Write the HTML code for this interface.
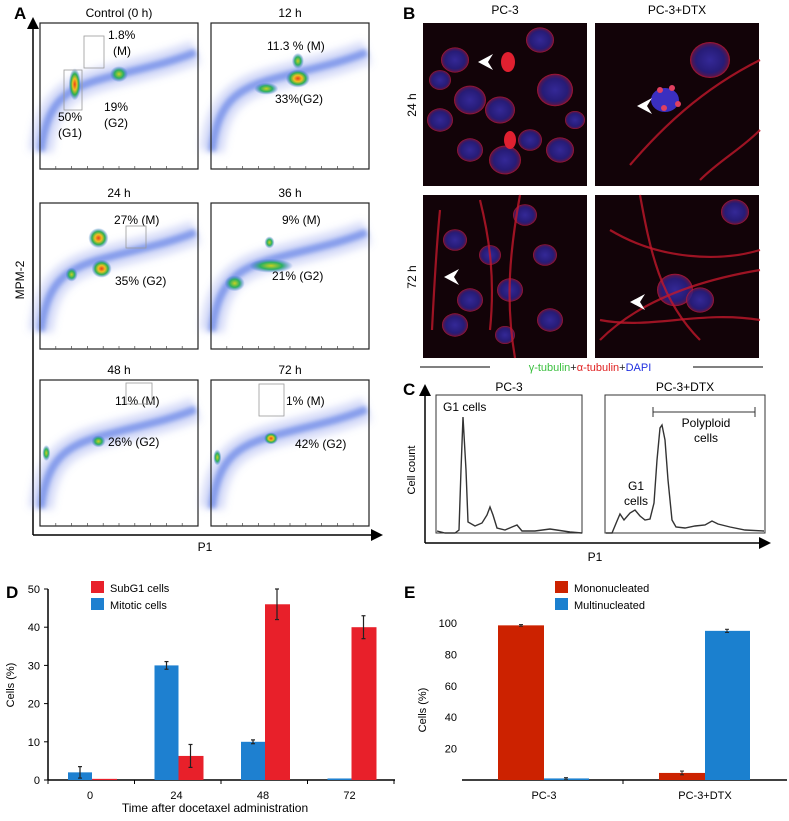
<!DOCTYPE html>
<html><head><meta charset="utf-8"><style>
html,body{margin:0;padding:0;background:#fff;}
svg{display:block;font-family:"Liberation Sans",Arial,sans-serif;}
</style></head><body>
<svg id="fig" width="789" height="821" viewBox="0 0 789 821" xmlns="http://www.w3.org/2000/svg">
<defs>
<filter id="bl2" x="-50%" y="-50%" width="200%" height="200%"><feGaussianBlur stdDeviation="2.2"/></filter>
<filter id="bl4" x="-50%" y="-50%" width="200%" height="200%"><feGaussianBlur stdDeviation="4"/></filter>
<radialGradient id="hot"><stop offset="0" stop-color="#e8401a"/><stop offset="0.35" stop-color="#f0c020"/><stop offset="0.65" stop-color="#2bb050"/><stop offset="1" stop-color="#2b5fe0" stop-opacity="0"/></radialGradient>
<radialGradient id="warm"><stop offset="0" stop-color="#c8d020"/><stop offset="0.5" stop-color="#2bb060"/><stop offset="1" stop-color="#2b5fe0" stop-opacity="0"/></radialGradient>
<radialGradient id="nucB"><stop offset="0" stop-color="#3a2fb0"/><stop offset="0.7" stop-color="#2a208a"/><stop offset="0.9" stop-color="#5a1a60"/><stop offset="1" stop-color="#d01830"/></radialGradient>
<marker id="arr" markerWidth="8" markerHeight="8" refX="6" refY="4" orient="auto"><path d="M0,0 L8,4 L0,8 Z" fill="#000"/></marker>
</defs>

<!-- Panel A -->
<g>
<text x="14" y="19" font-size="17" font-weight="bold">A</text>
<line x1="33" y1="535" x2="33" y2="20" stroke="#000" stroke-width="1.5" marker-end="url(#arr)"/>
<line x1="33" y1="535" x2="380" y2="535" stroke="#000" stroke-width="1.5" marker-end="url(#arr)"/>
<text x="24" y="280" font-size="12" text-anchor="middle" transform="rotate(-90 24 280)">MPM-2</text>
<text x="205" y="551" font-size="12" text-anchor="middle">P1</text>
<g id="flowplots"></g>
</g>

<!-- Panel B -->
<g>
<text x="403" y="19" font-size="17" font-weight="bold">B</text>
<text x="505" y="14" font-size="12" text-anchor="middle">PC-3</text>
<text x="677" y="14" font-size="12" text-anchor="middle">PC-3+DTX</text>
<text x="416" y="105" font-size="12" text-anchor="middle" transform="rotate(-90 416 105)">24 h</text>
<text x="416" y="277" font-size="12" text-anchor="middle" transform="rotate(-90 416 277)">72 h</text>
<g id="micro"></g>
<line x1="420" y1="367" x2="490" y2="367" stroke="#000" stroke-width="1"/>
<line x1="693" y1="367" x2="763" y2="367" stroke="#000" stroke-width="1"/>
<text x="590" y="371" font-size="11" text-anchor="middle"><tspan fill="#3cc040">γ-tubulin</tspan><tspan fill="#222">+</tspan><tspan fill="#e02020">α-tubulin</tspan><tspan fill="#222">+</tspan><tspan fill="#2030e0">DAPI</tspan></text>
</g>

<!-- Panel C -->
<g>
<text x="403" y="395" font-size="17" font-weight="bold">C</text>
<line x1="425" y1="543" x2="425" y2="387" stroke="#000" stroke-width="1.5" marker-end="url(#arr)"/>
<line x1="425" y1="543" x2="768" y2="543" stroke="#000" stroke-width="1.5" marker-end="url(#arr)"/>
<text x="415" y="470" font-size="11" text-anchor="middle" transform="rotate(-90 415 470)">Cell count</text>
<text x="595" y="561" font-size="12" text-anchor="middle">P1</text>
<text x="509" y="391" font-size="12" text-anchor="middle">PC-3</text>
<text x="685" y="391" font-size="12" text-anchor="middle">PC-3+DTX</text>
<rect x="436" y="395" width="146" height="138" fill="none" stroke="#333" stroke-width="1"/>
<rect x="605" y="395" width="160" height="138" fill="none" stroke="#333" stroke-width="1"/>
<g id="histos"></g>
<text x="443" y="411" font-size="12">G1 cells</text>
<line x1="653" y1="412" x2="755" y2="412" stroke="#333"/><line x1="653" y1="407" x2="653" y2="417" stroke="#333"/><line x1="755" y1="407" x2="755" y2="417" stroke="#333"/>
<text x="706" y="427" font-size="12" text-anchor="middle">Polyploid</text>
<text x="706" y="442" font-size="12" text-anchor="middle">cells</text>
<text x="636" y="490" font-size="12" text-anchor="middle">G1</text>
<text x="636" y="505" font-size="12" text-anchor="middle">cells</text>
</g>

<!-- Panel D -->
<g id="panelD">
<text x="6" y="598" font-size="17" font-weight="bold">D</text>
</g>
<!-- Panel E -->
<g id="panelE">
<text x="404" y="598" font-size="17" font-weight="bold">E</text>
</g>
</svg>
<script>
var NS="http://www.w3.org/2000/svg";
function mk(tag,attrs,parent,txt){var e=document.createElementNS(NS,tag);for(var k in attrs)e.setAttribute(k,attrs[k]);if(txt!==undefined)e.textContent=txt;parent.appendChild(e);return e;}

// ---------- Panel D data ----------
var dCategories=["0","24","48","72"];
var dMitotic=[2,30,10,0.4];
var dMitoticErr=[1.5,1,0.5,0];
var dSubG1=[0.3,6.3,46,40];
var dSubG1Err=[0,3,4,3];
var dTicks=[0,10,20,30,40,50];
// ---------- Panel E data ----------
var eCategories=["PC-3","PC-3+DTX"];
var eMono=[98.5,4.5];
var eMonoErr=[0.5,1.2];
var eMulti=[1,95];
var eMultiErr=[0.5,1];
var eTicks=[20,40,60,80,100];

(function(){
var g=document.getElementById('panelD');
function y(v){return 780-v*3.82;}
function xc(i){return 90+i*86.5;}
mk('line',{x1:48,y1:780,x2:395,y2:780,stroke:'#000','stroke-width':1.5},g);
mk('line',{x1:48,y1:780,x2:48,y2:589,stroke:'#000','stroke-width':1.5},g);
dTicks.forEach(function(t){
 mk('line',{x1:44,y1:y(t),x2:48,y2:y(t),stroke:'#000'},g);
 var tx=mk('text',{x:40,y:y(t)+4,'font-size':11,'text-anchor':'end'},g,String(t));
 
 
});
[0,1,2,3,4].forEach(function(i){mk('line',{x1:48+i*86.5,y1:780,x2:48+i*86.5,y2:784,stroke:'#000'},g);});
var yt=mk('text',{x:14,y:685,'font-size':11,'text-anchor':'middle',transform:'rotate(-90 14 685)'},g,'Cells (%)');


var xt=mk('text',{x:215,y:812,'font-size':12,'text-anchor':'middle'},g,'Time after docetaxel administration');


dCategories.forEach(function(c,i){
 var cx=xc(i)-22;
 var b=mk('rect',{x:cx,y:y(dMitotic[i]),width:24,height:780-y(dMitotic[i]),fill:'#1e80d0'},g);
 
 
 var r=mk('rect',{x:cx+24,y:y(dSubG1[i]),width:25,height:780-y(dSubG1[i]),fill:'#e8202a'},g);
 
 
 [[cx+12,dMitotic[i],dMitoticErr[i]],[cx+36,dSubG1[i],dSubG1Err[i]]].forEach(function(e){
  if(e[2]>0){mk('line',{x1:e[0],y1:y(e[1]+e[2]),x2:e[0],y2:y(Math.max(0,e[1]-e[2])),stroke:'#222','stroke-width':1.2},g);
  mk('line',{x1:e[0]-2,y1:y(e[1]+e[2]),x2:e[0]+2,y2:y(e[1]+e[2]),stroke:'#222','stroke-width':1.2},g);
  mk('line',{x1:e[0]-2,y1:y(Math.max(0,e[1]-e[2])),x2:e[0]+2,y2:y(Math.max(0,e[1]-e[2])),stroke:'#222','stroke-width':1.2},g);}
 });
 var tl=mk('text',{x:xc(i),y:799,'font-size':11,'text-anchor':'middle'},g,c);
 
 
});
var l1=mk('rect',{x:91,y:581,width:13,height:12,fill:'#e8202a'},g);


var l2=mk('text',{x:110,y:592,'font-size':11},g,'SubG1 cells');


var l3=mk('rect',{x:91,y:598,width:13,height:12,fill:'#1e80d0'},g);


var l4=mk('text',{x:110,y:609,'font-size':11},g,'Mitotic cells');


})();

(function(){
var g=document.getElementById('panelE');
function y(v){return 780-v*1.57;}
var xs=[544,705];
mk('line',{x1:462,y1:780,x2:787,y2:780,stroke:'#000','stroke-width':1.5},g);
mk('line',{x1:623,y1:780,x2:623,y2:784,stroke:'#000'},g);
eTicks.forEach(function(t){
 var tx=mk('text',{x:457,y:y(t)+4,'font-size':11,'text-anchor':'end'},g,String(t));
 
 
});
var yt=mk('text',{x:426,y:710,'font-size':11,'text-anchor':'middle',transform:'rotate(-90 426 710)'},g,'Cells (%)');


eCategories.forEach(function(c,i){
 var b=mk('rect',{x:xs[i]-46,y:y(eMono[i]),width:46,height:780-y(eMono[i]),fill:'#cc2200'},g);
 
 
 var r=mk('rect',{x:xs[i],y:y(eMulti[i]),width:45,height:780-y(eMulti[i]),fill:'#1b80cf'},g);
 
 
 [[xs[i]-23,eMono[i],eMonoErr[i]],[xs[i]+22,eMulti[i],eMultiErr[i]]].forEach(function(e){
  mk('line',{x1:e[0],y1:y(e[1]+e[2]),x2:e[0],y2:y(e[1]-e[2]),stroke:'#222'},g);
  mk('line',{x1:e[0]-2,y1:y(e[1]+e[2]),x2:e[0]+2,y2:y(e[1]+e[2]),stroke:'#222'},g);
  mk('line',{x1:e[0]-2,y1:y(e[1]-e[2]),x2:e[0]+2,y2:y(e[1]-e[2]),stroke:'#222'},g);
 });
 var tl=mk('text',{x:xs[i],y:799,'font-size':11,'text-anchor':'middle'},g,c);
 
 
});
var l1=mk('rect',{x:555,y:581,width:13,height:12,fill:'#cc2200'},g);


var l2=mk('text',{x:574,y:592,'font-size':11},g,'Mononucleated');


var l3=mk('rect',{x:555,y:598,width:13,height:12,fill:'#1b80cf'},g);


var l4=mk('text',{x:574,y:609,'font-size':11},g,'Multinucleated');


})();

// ---------- Panel C histograms ----------
var histPC3=[[437,531],[445,533],[455,533],[459,530],[461,470],[463,417],[466,470],[468,522],[475,526],[482,523],[487,515],[490,507],[493,515],[497,528],[505,530],[512,527],[517,525],[522,531],[535,531],[550,529],[570,532],[582,533]];
var histDTX=[[606,533],[612,533],[617,521],[620,514],[624,520],[630,513],[635,510],[640,516],[645,520],[650,519],[654,503],[657,460],[660,428],[662,425],[665,440],[668,480],[672,520],[676,527],[685,528],[695,526],[705,525],[712,521],[718,524],[730,527],[745,530],[764,531]];
(function(){
var g=document.getElementById('histos');
var p1=mk('polyline',{points:histPC3.map(function(p){return p.join(',');}).join(' '),fill:'none',stroke:'#333','stroke-width':1.4},g);


var p2=mk('polyline',{points:histDTX.map(function(p){return p.join(',');}).join(' '),fill:'none',stroke:'#333','stroke-width':1.4},g);


})();

// ---------- Panel A flow plots ----------
var flowTitles=["Control (0 h)","12 h","24 h","36 h","48 h","72 h"];
(function(){
var g=document.getElementById('flowplots');
var boxes=[[40,23],[211,23],[40,203],[211,203],[40,380],[211,380]];
var W=158,H=146;
var hots=[
 [[0.22,0.42,6,16,'hot'],[0.5,0.35,9,8,'warm']],
 [[0.55,0.38,12,9,'hot'],[0.35,0.45,12,6,'warm'],[0.55,0.26,6,8,'warm']],
 [[0.37,0.24,10,10,'hot'],[0.39,0.45,10,9,'hot'],[0.2,0.49,6,7,'warm']],
 [[0.38,0.43,22,7,'warm'],[0.15,0.55,10,8,'warm'],[0.37,0.27,5,6,'warm']],
 [[0.37,0.42,7,6,'warm'],[0.04,0.5,4,8,'warm']],
 [[0.38,0.4,7,6,'hot'],[0.04,0.53,4,8,'warm']]
];
var texts=[
 [["1.8%",108,39],["(M)",113,55],["50%",58,121],["(G1)",58,137],["19%",104,111],["(G2)",104,127]],
 [["11.3 % (M)",267,50],["33%(G2)",275,103]],
 [["27% (M)",114,224],["35% (G2)",115,285],],
 [["9% (M)",282,224],["21% (G2)",272,280]],
 [["11% (M)",115,405],["26% (G2)",108,446]],
 [["1% (M)",286,405],["42% (G2)",295,448]]
];
boxes.forEach(function(b,i){
 var x=b[0],y=b[1];
 var t=mk('text',{x:x+W/2,y:y-6,'font-size':12,'text-anchor':'middle'},g,flowTitles[i]);
 
 
 var d='M'+(x+1)+','+(y+H*0.88)+' C'+(x+6)+','+(y+H*0.55)+' '+(x+25)+','+(y+H*0.45)+' '+(x+W*0.4)+','+(y+H*0.38)+' S'+(x+W*0.8)+','+(y+H*0.28)+' '+(x+W-2)+','+(y+H*0.2);
 mk('path',{d:d,fill:'none',stroke:'#6f86e8','stroke-width':24,'stroke-opacity':0.3,filter:'url(#bl4)'},g);
 mk('path',{d:d,fill:'none',stroke:'#3a5fe0','stroke-width':8,'stroke-opacity':0.5,filter:'url(#bl2)'},g);
 hots[i].forEach(function(h){mk('ellipse',{cx:x+W*h[0],cy:y+H*h[1],rx:h[2],ry:h[3],fill:'url(#'+h[4]+')'},g);});
 var r=mk('rect',{x:x,y:y,width:W,height:H,fill:'none',stroke:'#222','stroke-width':1.2},g);
 
 
 for(var k=1;k<10;k++){mk('line',{x1:x+k*W/10,y1:y+H,x2:x+k*W/10,y2:y+H-3,stroke:'#444','stroke-width':0.7},g);}
 texts[i].forEach(function(s){var tt=mk('text',{x:s[1],y:s[2],'font-size':12},g,s[0]);});
});
mk('rect',{x:84,y:36,width:20,height:32,fill:'none',stroke:'#999','stroke-width':0.8},g);
mk('rect',{x:64,y:70,width:18,height:40,fill:'none',stroke:'#999','stroke-width':0.8},g);
mk('rect',{x:126,y:226,width:20,height:22,fill:'none',stroke:'#999','stroke-width':0.8},g);
mk('rect',{x:126,y:383,width:26,height:21,fill:'none',stroke:'#999','stroke-width':0.8},g);
mk('rect',{x:259,y:384,width:25,height:32,fill:'none',stroke:'#999','stroke-width':0.8},g);
})();

// ---------- Panel B micrographs (decorative) ----------
(function(){
var g=document.getElementById('micro');
var ims=[[423,23],[595,23],[423,195],[595,195]];
ims.forEach(function(p,i){
 var r=mk('rect',{x:p[0],y:p[1],width:164,height:163,fill:'#120308'},g);
 
 
});
var cells=[
 [455,60,14],[470,100,16],[440,120,13],[500,110,15],[540,40,14],[555,90,18],[505,160,16],[470,150,13],[560,150,14],[440,80,11],[530,140,12],[575,120,10],
 [455,240,12],[490,255,11],[525,215,12],[470,300,13],[510,290,13],[455,325,13],[545,255,12],[550,320,13],[505,335,10],
 [735,212,14],[675,290,18],[700,300,14],[710,60,20]
];
cells.forEach(function(c){mk('ellipse',{cx:c[0],cy:c[1],rx:c[2],ry:c[2]*0.9,fill:'url(#nucB)',opacity:0.85},g);});
var fib=["M600,340 C640,300 700,280 760,270","M610,230 C660,260 720,262 760,250","M640,195 C650,250 660,300 700,340","M520,195 C510,250 505,300 515,358","M440,210 C436,250 434,290 432,330","M630,165 C660,130 700,90 760,60","M700,180 C720,160 740,150 760,130","M600,320 C650,330 700,310 760,320","M480,200 C490,240 495,280 490,330"];
fib.forEach(function(d){mk('path',{d:d,fill:'none',stroke:'#c0182a','stroke-width':2.2,opacity:0.8},g);});
mk('ellipse',{cx:508,cy:62,rx:7,ry:10,fill:'#e02030'},g);
mk('ellipse',{cx:510,cy:140,rx:6,ry:9,fill:'#e02030'},g);
mk('ellipse',{cx:665,cy:100,rx:14,ry:12,fill:'#3a2fc0'},g);
[[660,90],[672,88],[664,108],[678,104]].forEach(function(q){mk('circle',{cx:q[0],cy:q[1],r:3,fill:'#e04060'},g);});
[[478,62],[637,106],[444,277],[630,302]].forEach(function(q){mk('path',{d:'M'+q[0]+','+q[1]+' l15,-8 l-5,8 l5,8 z',fill:'#fff'},g);});
})();
</script>
</body></html>
